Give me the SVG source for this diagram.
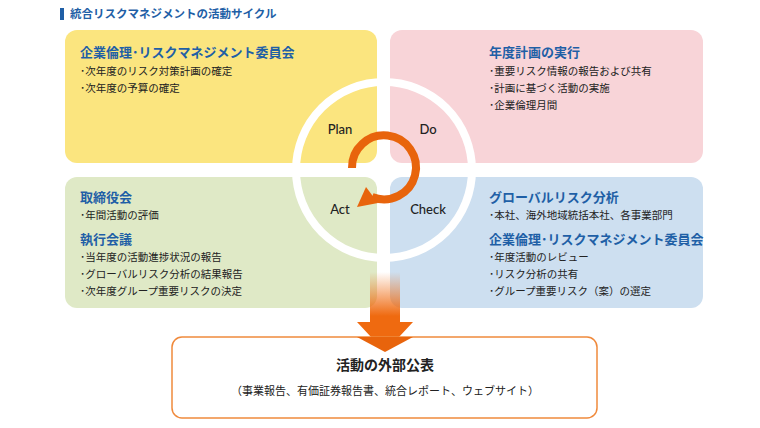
<svg xmlns="http://www.w3.org/2000/svg" width="760" height="428" viewBox="0 0 760 428">
<style>
text{font-family:"Noto Sans CJK JP","Noto Sans",sans-serif}
.h{fill:#1f5fa6;font-size:13px;font-weight:bold}
.i{fill:#222;font-size:10.5px}
.pd{fill:#222;font-size:13px;font-family:"Lato","Noto Sans",sans-serif;font-weight:500}
</style>
<defs>
<linearGradient id="g" x1="0" y1="0" x2="0" y2="1">
<stop offset="0" stop-color="#ef6a10" stop-opacity="0"/>
<stop offset="0.55" stop-color="#ef6a10"/>
<stop offset="1" stop-color="#ef6a10"/>
</linearGradient>
</defs>
<rect x="60" y="8" width="4" height="12" fill="#1f5fa6"/>
<text x="70" y="18" class="h" style="font-size:11.5px">統合リスクマネジメントの活動サイクル</text>
<g id="plan"><rect x="65" y="30" width="312" height="133" rx="12" fill="#fbe57f"/>
<text x="80" y="57" class="h">企業倫理･リスクマネジメント委員会</text>
<text x="80" y="75" class="i">･次年度のリスク対策計画の確定</text>
<text x="80" y="92" class="i">･次年度の予算の確定</text></g>
<g id="do"><rect x="390" y="30" width="313" height="133" rx="12" fill="#f8d4d8"/>
<text x="489" y="57" class="h">年度計画の実行</text>
<text x="489" y="75" class="i">･重要リスク情報の報告および共有</text>
<text x="489" y="92" class="i">･計画に基づく活動の実施</text>
<text x="489" y="109" class="i">･企業倫理月間</text></g>
<g id="act"><rect x="65" y="177" width="312" height="131" rx="12" fill="#dfe9c6"/>
<text x="80" y="202" class="h">取締役会</text>
<text x="80" y="219" class="i">･年間活動の評価</text>
<text x="80" y="244" class="h">執行会議</text>
<text x="80" y="261" class="i">･当年度の活動進捗状況の報告</text>
<text x="80" y="278" class="i">･グローバルリスク分析の結果報告</text>
<text x="80" y="295" class="i">･次年度グループ重要リスクの決定</text></g>
<g id="check"><rect x="390" y="177" width="313" height="131" rx="12" fill="#cddff0"/>
<text x="489" y="202" class="h">グローバルリスク分析</text>
<text x="489" y="219" class="i">･本社、海外地域統括本社、各事業部門</text>
<text x="489" y="244" class="h">企業倫理･リスクマネジメント委員会</text>
<text x="489" y="261" class="i">･年度活動のレビュー</text>
<text x="489" y="278" class="i">･リスク分析の共有</text>
<text x="489" y="295" class="i">･グループ重要リスク（案）の選定</text></g>
<g id="cycle">
<circle cx="384" cy="170" r="88" fill="none" stroke="#fff" stroke-width="8"/>
<text x="340" y="134" class="pd" text-anchor="middle">Plan</text>
<text x="428" y="134" class="pd" text-anchor="middle">Do</text>
<text x="340" y="214" class="pd" text-anchor="middle">Act</text>
<text x="428" y="214" class="pd" text-anchor="middle">Check</text>
</g>
<g id="connectors">
<path d="M352,168 A32,32 0 1 1 372,197" fill="none" stroke="#e8640c" stroke-width="8"/>
<path d="M357,207 L366,187 L378,203 Z" fill="#e8640c"/>
<path d="M370,272 H400 V322 H413 L385,352 L357,322 H370 Z" fill="url(#g)"/>
</g>
<g id="publish">
<rect x="172" y="337" width="425" height="81" rx="10" fill="#fff" stroke="#f08a3c" stroke-width="1.5"/>
<path d="M357,337 H413 L385,352 Z" fill="#e8640c"/>
<text x="385" y="370" text-anchor="middle" style="font-size:14px;font-weight:bold;fill:#222">活動の外部公表</text>
<text x="385" y="395" text-anchor="middle" class="i" style="font-size:11px">（事業報告、有価証券報告書、統合レポート、ウェブサイト）</text>
</g>
</svg>
